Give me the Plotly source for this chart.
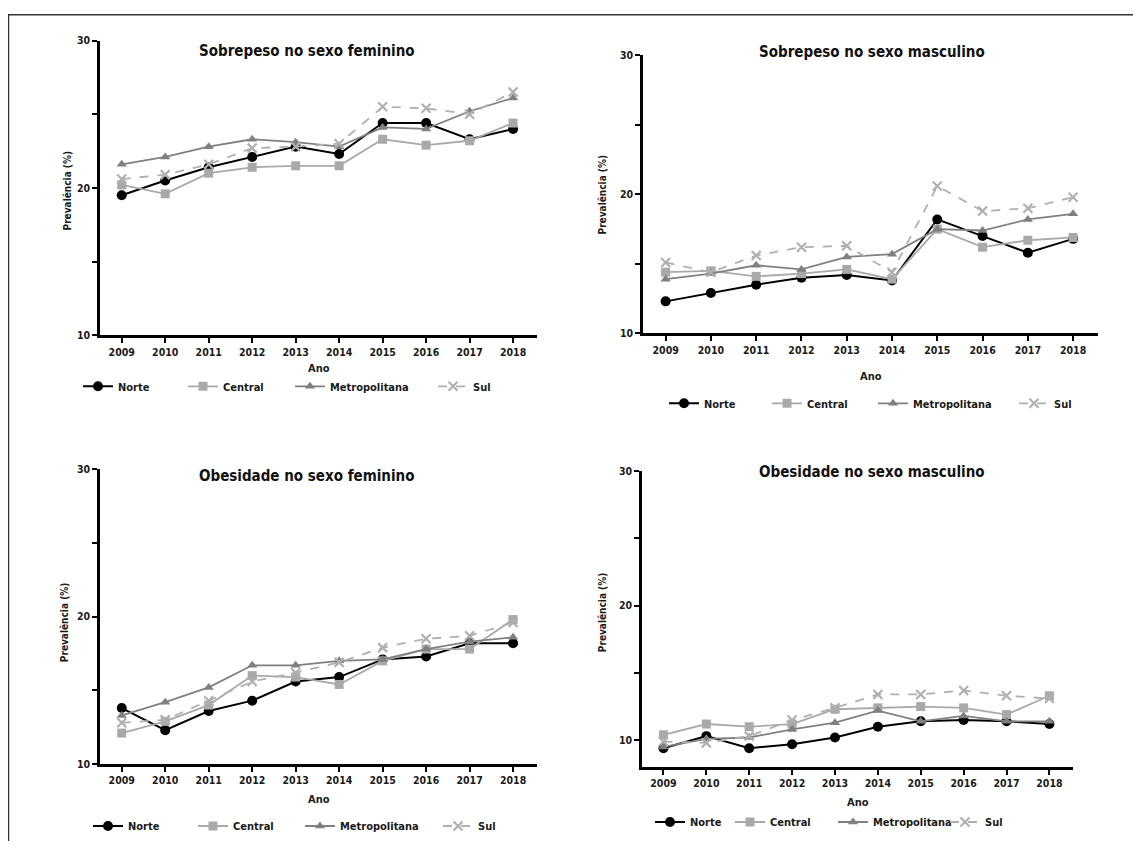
import plotly.graph_objects as go

# ---------------- data ----------------
anos = [2009, 2010, 2011, 2012, 2013, 2014, 2015, 2016, 2017, 2018]
regioes = ["Norte", "Central", "Metropolitana", "Sul"]

sobrepeso_fem_norte = [19.5, 20.5, 21.4, 22.1, 22.8, 22.3, 24.4, 24.4, 23.3, 24.0]
sobrepeso_fem_central = [20.2, 19.6, 21.0, 21.4, 21.5, 21.5, 23.3, 22.9, 23.2, 24.4]
sobrepeso_fem_metro = [21.6, 22.1, 22.8, 23.3, 23.1, 22.8, 24.1, 24.0, 25.2, 26.1]
sobrepeso_fem_sul = [20.6, 20.9, 21.6, 22.7, 22.8, 23.0, 25.5, 25.4, 25.0, 26.5]

sobrepeso_mas_norte = [12.3, 12.9, 13.5, 14.0, 14.2, 13.8, 18.2, 17.0, 15.8, 16.8]
sobrepeso_mas_central = [14.4, 14.5, 14.1, 14.3, 14.6, 13.9, 17.5, 16.2, 16.7, 16.9]
sobrepeso_mas_metro = [13.9, 14.3, 14.9, 14.6, 15.5, 15.7, 17.5, 17.4, 18.2, 18.6]
sobrepeso_mas_sul = [15.1, 14.4, 15.6, 16.2, 16.3, 14.4, 20.6, 18.8, 19.0, 19.8]

obesidade_fem_norte = [13.8, 12.3, 13.6, 14.3, 15.6, 15.9, 17.1, 17.3, 18.2, 18.2]
obesidade_fem_central = [12.1, 12.9, 14.0, 16.0, 15.9, 15.4, 17.0, 17.8, 17.8, 19.8]
obesidade_fem_metro = [13.3, 14.2, 15.2, 16.7, 16.7, 17.0, 17.1, 17.8, 18.3, 18.6]
obesidade_fem_sul = [12.8, 13.0, 14.3, 15.6, 16.2, 16.9, 17.9, 18.5, 18.7, 19.6]

obesidade_mas_norte = [9.4, 10.3, 9.4, 9.7, 10.2, 11.0, 11.4, 11.5, 11.4, 11.2]
obesidade_mas_central = [10.4, 11.2, 11.0, 11.2, 12.3, 12.4, 12.5, 12.4, 11.9, 13.3]
obesidade_mas_metro = [9.5, 10.1, 10.2, 10.8, 11.3, 12.2, 11.4, 11.8, 11.4, 11.4]
obesidade_mas_sul = [9.9, 9.8, 10.3, 11.5, 12.4, 13.4, 13.4, 13.7, 13.3, 13.1]

titulos = ["Sobrepeso no sexo feminino", "Sobrepeso no sexo masculino",
           "Obesidade no sexo feminino", "Obesidade no sexo masculino"]
ytick_vals = [10, 15, 20, 25, 30]
ytick_text = ["10", "", "20", "", "30"]

# ---------------- styling ----------------
OFF = 8                      # page body margin in the browser
W, H = 1141 - 2 * OFF, 849 - 2 * OFF
FONT = "Liberation Sans Narrow, DejaVu Sans Condensed, Arial Narrow, sans-serif"
TXT = "#1a1a1a"

estilos = {
    "Norte": dict(color="#000000", symbol="circle", size=10, dash="solid", width=2),
    "Central": dict(color="#a9a9a9", symbol="square", size=9, dash="solid", width=1.8),
    "Metropolitana": dict(color="#808080", symbol="triangle-up", size=9, dash="solid", width=1.8),
    "Sul": dict(color="#b0b0b0", symbol="x-thin", size=9, dash="dash", width=1.8),
}


def fx(p):
    return (p - OFF) / W


def fy(p):
    # empirical vertical correction measured from the rendered page
    fig_y = (p - 5.6) / 0.985 - OFF
    return 1 - fig_y / H


paineis = [
    dict(dados=[sobrepeso_fem_norte, sobrepeso_fem_central, sobrepeso_fem_metro, sobrepeso_fem_sul],
         box=(100, 537, 40, 335), yr=[10, 30], tit=(307, 51), ano=368, leg_y=386,
         ylab=(67, 190), leg_x=[118, 223, 330, 473]),
    dict(dados=[sobrepeso_mas_norte, sobrepeso_mas_central, sobrepeso_mas_metro, sobrepeso_mas_sul],
         box=(643, 1098, 55, 333), yr=[10, 30], tit=(872, 52), ano=376, leg_y=403,
         ylab=(602, 194), leg_x=[704, 807, 913, 1054]),
    dict(dados=[obesidade_fem_norte, obesidade_fem_central, obesidade_fem_metro, obesidade_fem_sul],
         box=(100, 537, 469, 764), yr=[10, 30], tit=(306, 476), ano=799, leg_y=826,
         ylab=(64, 622), leg_x=[128, 233, 340, 478]),
    dict(dados=[obesidade_mas_norte, obesidade_mas_central, obesidade_mas_metro, obesidade_mas_sul],
         box=(642, 1073, 471, 767), yr=[8, 30], tit=(872, 472), ano=802, leg_y=822,
         ylab=(602, 612), leg_x=[690, 770, 873, 985]),
]

fig = go.Figure()
annotations = []
layout_extra = {}
leg_n = 0

for i, p in enumerate(paineis):
    k = i + 1
    xa = "x" if k == 1 else f"x{k}"
    ya = "y" if k == 1 else f"y{k}"
    xkey = "xaxis" if k == 1 else f"xaxis{k}"
    ykey = "yaxis" if k == 1 else f"yaxis{k}"
    x0, x1, y0, y1 = p["box"]
    layout_extra[xkey] = dict(
        domain=[fx(x0), fx(x1)], anchor=ya, range=[2008.5, 2018.55],
        tickvals=anos, ticktext=[str(a) for a in anos],
        showline=True, linecolor="#000", linewidth=2.5, ticks="outside",
        ticklen=5, tickwidth=2, tickcolor="#000", showgrid=False, zeroline=False,
        tickfont=dict(family=FONT, size=10.5, color=TXT, weight="bold"), fixedrange=True,
    )
    layout_extra[ykey] = dict(
        domain=[fy(y1), fy(y0)], anchor=xa, range=p["yr"],
        tickvals=ytick_vals, ticktext=ytick_text,
        showline=True, linecolor="#000", linewidth=2.5, ticks="outside",
        ticklen=5, tickwidth=2, tickcolor="#000", showgrid=False, zeroline=False,
        tickfont=dict(family=FONT, size=10.5, color=TXT, weight="bold"), fixedrange=True,
    )
    for j, reg in enumerate(regioes):
        leg_n += 1
        lname = "legend" if leg_n == 1 else f"legend{leg_n}"
        e = estilos[reg]
        fig.add_trace(go.Scatter(
            x=anos, y=p["dados"][j], name=reg, mode="lines+markers",
            xaxis=xa, yaxis=ya, legend=lname, cliponaxis=False, showlegend=True,
            line=dict(color=e["color"], width=e["width"], dash=e["dash"]),
            marker=dict(color=e["color"], symbol=e["symbol"], size=e["size"],
                        line=dict(color=e["color"], width=2.2 if reg == "Sul" else 0)),
        ))
        layout_extra[lname] = dict(
            x=fx(p["leg_x"][j] - 40), y=fy(p["leg_y"]), xanchor="left", yanchor="middle",
            orientation="h", bgcolor="rgba(0,0,0,0)", itemwidth=30,
            font=dict(family=FONT, size=11, color=TXT, weight="bold"),
        )
    annotations.append(dict(
        text=titulos[i], x=fx(p["tit"][0]), y=fy(p["tit"][1]), xref="paper", yref="paper",
        showarrow=False, xanchor="center", yanchor="middle",
        font=dict(family=FONT, size=15, color="#111", weight="bold")))
    annotations.append(dict(
        text="Ano", x=fx((x0 + x1) / 2), y=fy(p["ano"]), xref="paper", yref="paper",
        showarrow=False, xanchor="center", yanchor="middle",
        font=dict(family=FONT, size=11, color=TXT, weight="bold")))
    annotations.append(dict(
        text="Prevalência (%)", x=fx(p["ylab"][0]), y=fy(p["ylab"][1]), xref="paper", yref="paper",
        showarrow=False, xanchor="center", yanchor="middle", textangle=-90,
        font=dict(family=FONT, size=10, color=TXT, weight="bold")))

fig.update_layout(
    width=W, height=H, margin=dict(l=0, r=0, t=0, b=0, pad=0),
    paper_bgcolor="white", plot_bgcolor="white", showlegend=True,
    annotations=annotations,
    shapes=[dict(type="rect", xref="paper", yref="paper", x0=fx(8.5), x1=1.05, y0=-0.05, y1=0.999,
                 line=dict(color="#333", width=1.5), fillcolor="rgba(0,0,0,0)", layer="below")],
    **layout_extra,
)

fig.write_html("out.html", config={"displayModeBar": False})
